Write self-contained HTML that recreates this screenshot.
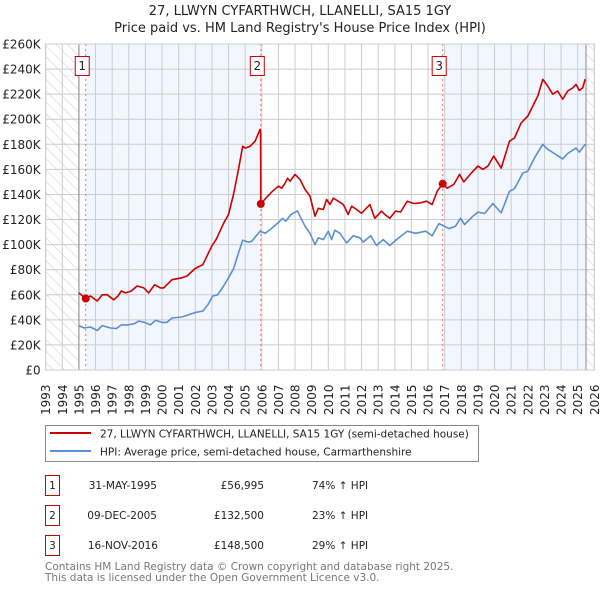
<!DOCTYPE html>
<html><head><meta charset="utf-8"><style>
body{margin:0;background:#fff;width:600px;height:590px;overflow:hidden;font-family:"DejaVu Sans","Liberation Sans",sans-serif;}
svg{display:block}
</style></head><body>
<svg id="c" width="600" height="590" xmlns="http://www.w3.org/2000/svg">
<defs><pattern id="hatch" width="8" height="8" patternUnits="userSpaceOnUse" patternTransform="rotate(-45)"><line x1="0" y1="0" x2="0" y2="8" stroke="#ccc" stroke-width="1"/></pattern></defs>
<text x="300" y="15" text-anchor="middle" font-size="13" fill="#222">27, LLWYN CYFARTHWCH, LLANELLI, SA15 1GY</text>
<text x="300" y="32" text-anchor="middle" font-size="13" fill="#222">Price paid vs. HM Land Registry's House Price Index (HPI)</text>
<g id="plot"></g>
<g>
<rect x="45.5" y="425.5" width="433" height="36" fill="#fff" stroke="#888"/>
<line x1="50" y1="433" x2="91" y2="433" stroke="#cc0000" stroke-width="2"/>
<text x="100" y="437.5" font-size="10.5" fill="#222">27, LLWYN CYFARTHWCH, LLANELLI, SA15 1GY (semi-detached house)</text>
<line x1="50" y1="451" x2="91" y2="451" stroke="#5b8fd4" stroke-width="2"/>
<text x="100" y="455.5" font-size="10.5" fill="#222">HPI: Average price, semi-detached house, Carmarthenshire</text>
</g>
<g font-size="10.5" fill="#222">
<rect x="45.5" y="475.5" width="14" height="20" fill="#fff" stroke="#cc0000"/><text x="52.5" y="489" text-anchor="middle">1</text>
<text x="157" y="489" text-anchor="end">31-MAY-1995</text><text x="264" y="489" text-anchor="end">£56,995</text><text x="312" y="489">74% ↑ HPI</text>
<rect x="45.5" y="505.5" width="14" height="20" fill="#fff" stroke="#cc0000"/><text x="52.5" y="519" text-anchor="middle">2</text>
<text x="157" y="519" text-anchor="end">09-DEC-2005</text><text x="264" y="519" text-anchor="end">£132,500</text><text x="312" y="519">23% ↑ HPI</text>
<rect x="45.5" y="535.5" width="14" height="20" fill="#fff" stroke="#cc0000"/><text x="52.5" y="549" text-anchor="middle">3</text>
<text x="158" y="549" text-anchor="end">16-NOV-2016</text><text x="264" y="549" text-anchor="end">£148,500</text><text x="312" y="549">29% ↑ HPI</text>
</g>
<text x="45" y="570" font-size="10.5" fill="#777">Contains HM Land Registry data © Crown copyright and database right 2025.</text>
<text x="45" y="581" font-size="10.5" fill="#777">This data is licensed under the Open Government Licence v3.0.</text>
</svg>
<script>
const yTicks=[0,20,40,60,80,100,120,140,160,180,200,220,240,260];
const years=[1993,1994,1995,1996,1997,1998,1999,2000,2001,2002,2003,2004,2005,2006,2007,2008,2009,2010,2011,2012,2013,2014,2015,2016,2017,2018,2019,2020,2021,2022,2023,2024,2025,2026];
const saleYears=[1995.41,2005.94,2016.88];
const saleValues=[56.995,132.5,148.5];
const saleLabels=["1","2","3"];
const propT=[1995,1995.41,1995.7,1996.1,1996.4,1996.7,1997.1,1997.35,1997.55,1997.8,1998.15,1998.5,1998.9,1999.2,1999.55,1999.9,2000.1,2000.6,2001.2,2001.5,2002,2002.45,2003,2003.25,2003.7,2004,2004.3,2004.6,2004.85,2005,2005.3,2005.6,2005.9,2005.93,2005.94,2006.35,2006.65,2007,2007.2,2007.4,2007.55,2007.7,2008,2008.3,2008.6,2008.9,2009.2,2009.4,2009.7,2009.9,2010.1,2010.3,2010.6,2010.9,2011.2,2011.4,2011.7,2012,2012.5,2012.8,2013.2,2013.4,2013.7,2014.05,2014.35,2014.75,2015.15,2015.55,2015.9,2016.25,2016.55,2016.88,2017.15,2017.55,2017.9,2018.15,2018.6,2019,2019.3,2019.6,2019.95,2020.4,2020.9,2021.2,2021.6,2022,2022.4,2022.6,2022.9,2023.2,2023.5,2023.8,2024.1,2024.4,2024.7,2024.9,2025.1,2025.3,2025.45];
const propV=[61.5,57,59,55,60,60,56,59,63,61.5,63,67,65.5,61.5,68,65.5,65.5,72,73.5,75,81,84,99,104,117,124,140,160,178.5,177,178.5,182.5,192,189,132.5,138.6,142.6,146.6,145,149,153,150.6,156,152,144,138.6,122.7,129,128,136,132,137,134.6,132,124,130.6,128,125,132,121,126.7,124,121,126.7,126,134.6,132.8,133.3,134.6,132,142.6,148.5,145,148,156,150,157,162.6,160,162.6,170.6,161,182.5,185,197,202.5,213,218.5,231.8,226.5,220,222.5,216,222.5,225,227.8,223,225,232];
const hpiT=[1995,1995.3,1995.7,1996.1,1996.4,1996.9,1997.25,1997.55,1997.95,1998.35,1998.6,1998.95,1999.3,1999.6,2000,2000.3,2000.6,2001.2,2001.6,2002.05,2002.45,2002.75,2003.05,2003.35,2003.7,2004,2004.3,2004.6,2004.85,2005.2,2005.4,2005.9,2006.2,2006.5,2006.95,2007.25,2007.45,2007.75,2008.15,2008.3,2008.6,2008.9,2009.2,2009.4,2009.7,2010,2010.2,2010.4,2010.7,2011.1,2011.5,2011.9,2012.1,2012.55,2012.9,2013.3,2013.7,2014.1,2014.75,2015.25,2015.85,2016.25,2016.65,2016.9,2017.25,2017.65,2017.95,2018.2,2018.7,2019,2019.4,2019.9,2020.4,2020.9,2021.2,2021.7,2022,2022.4,2022.9,2023.2,2023.6,2024.1,2024.4,2024.9,2025.1,2025.45];
const hpiV=[35.4,33.5,34.3,31.4,35.4,33.5,33,36,36,37,39,38,36,39.6,38,38,41.5,42.3,44,46,47,52,59,60,67,73.5,80.6,93.4,103.5,102,102.7,110.7,109,112,117,121,118.7,124,127,122.7,114.7,109,100,105.4,104,110.7,104,111.5,109,101.4,107,105.4,102,107,99.3,104,99.3,104,110.7,109,110.7,107,116.8,115.2,112.8,114.7,121,116,122.7,125.9,124.8,132.8,125.3,142.6,144.5,157,158.6,169,180,176,172.7,168.4,172.7,177,173.8,180];

const NS='http://www.w3.org/2000/svg';
const L=45.67,R=594.3,T=44,B=370;
const X=t=>L+(t-1993)*(R-L)/33;
const Y=v=>B-v*(B-T)/260;
const g=document.getElementById('plot');
function mk(tag,attrs,parent){const e=document.createElementNS(NS,tag);for(const k in attrs)e.setAttribute(k,attrs[k]);(parent||g).appendChild(e);return e;}
mk('rect',{x:X(1995.41),y:T,width:X(2005.94)-X(1995.41),height:B-T,fill:'#f2f6fe'});
mk('rect',{x:X(2016.88),y:T,width:X(2025.5)-X(2016.88),height:B-T,fill:'#f2f6fe'});
mk('rect',{x:L,y:T,width:X(1995)-L,height:B-T,fill:'url(#hatch)'});
mk('rect',{x:X(2025.5),y:T,width:R-X(2025.5),height:B-T,fill:'url(#hatch)'});
years.forEach(y=>{mk('line',{x1:X(y),x2:X(y),y1:T,y2:B,stroke:'#ccc','stroke-width':1});
 const t=mk('text',{x:0,y:0,transform:`translate(${X(y)+4.5},${B+45}) rotate(-90)`,'font-size':12,fill:'#222'});t.textContent=y;
 
 });
yTicks.forEach(v=>{mk('line',{x1:L,x2:R,y1:Y(v),y2:Y(v),stroke:'#ccc','stroke-width':1});
 const t=mk('text',{x:L-5,y:Y(v)+4.5,'text-anchor':'end','font-size':12,fill:'#222'});t.textContent='£'+v+(v?'K':'');
 
 });
mk('line',{x1:X(1995),x2:X(1995),y1:T,y2:B,stroke:'#888'});
mk('line',{x1:X(2025.5),x2:X(2025.5),y1:T,y2:B,stroke:'#888'});
saleYears.forEach((s,i)=>{mk('line',{x1:X(s),x2:X(s),y1:T,y2:B,stroke:'#f07070','stroke-dasharray':'2,3'});
 const r=mk('rect',{x:X(s)-10.5,y:56.5,width:14,height:19,fill:'#fff',stroke:'#cc0000'});
 
 
 const t=mk('text',{x:X(s)-3.5,y:70,'text-anchor':'middle','font-size':12,fill:'#222'});t.textContent=saleLabels[i];});
function line(ts,vs,col,name){const p=mk('polyline',{points:ts.map((t,i)=>X(t).toFixed(1)+','+Y(vs[i]).toFixed(1)).join(' '),fill:'none',stroke:col,'stroke-width':1.6,'stroke-linejoin':'round'});
 
 }
line(hpiT,hpiV,'#5b8fd4','hpi-line');
line(propT,propV,'#cc0000','property-price-line');
saleYears.forEach((s,i)=>{const c=mk('circle',{cx:X(s),cy:Y(saleValues[i]),r:4,fill:'#cc0000'});
 
 });
mk('rect',{x:L,y:T,width:R-L,height:B-T,fill:'none',stroke:'#ccc'});
</script>
</body></html>
